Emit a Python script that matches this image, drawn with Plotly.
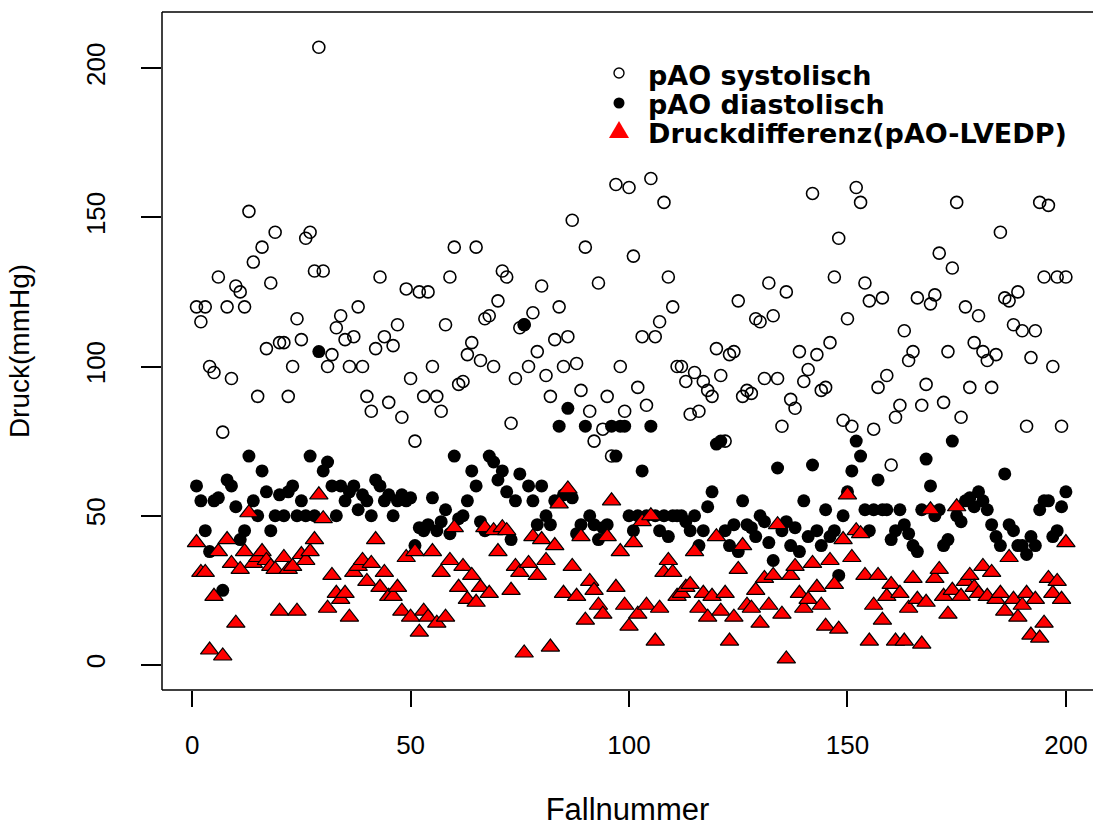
import plotly.graph_objects as go

fall = list(range(1, 201))

systolisch = [
    120, 115, 120, 100, 98, 130, 78, 120, 96, 127,
    125, 120, 152, 135, 90, 140, 106, 128, 145, 108,
    108, 90, 100, 116, 109, 143, 145, 132, 207, 132,
    100, 104, 113, 117, 109, 100, 110, 120, 100, 90,
    85, 106, 130, 110, 88, 107, 114, 83, 126, 96,
    75, 125, 90, 125, 100, 90, 85, 114, 130, 140,
    94, 95, 104, 108, 140, 102, 116, 117, 100, 122,
    132, 130, 81, 96, 113, 114, 100, 118, 105, 127,
    97, 90, 109, 120, 100, 110, 149, 101, 92, 140,
    85, 75, 128, 79, 90, 70, 161, 100, 85, 160,
    137, 93, 110, 87, 163, 110, 115, 155, 130, 120,
    100, 100, 95, 84, 98, 85, 95, 92, 90, 106,
    97, 75, 104, 105, 122, 90, 92, 91, 116, 115,
    96, 128, 117, 96, 80, 125, 89, 86, 105, 95,
    99, 158, 104, 92, 93, 108, 130, 143, 82, 116,
    80, 160, 155, 128, 122, 79, 93, 123, 97, 67,
    83, 87, 112, 102, 105, 123, 87, 94, 121, 124,
    138, 88, 105, 133, 155, 83, 120, 93, 108, 117,
    105, 102, 93, 104, 145, 123, 122, 114, 125, 112,
    80, 103, 112, 155, 130, 154, 100, 130, 80, 130,
]

diastolisch = [
    60, 55, 45, 38, 55, 56, 25, 62, 60, 53,
    42, 45, 70, 55, 50, 65, 58, 45, 50, 57,
    50, 58, 60, 50, 55, 50, 70, 50, 105, 65,
    68, 60, 50, 60, 55, 58, 60, 52, 57, 55,
    50, 62, 60, 55, 57, 50, 55, 57, 55, 56,
    40, 46, 45, 47, 56, 45, 48, 52, 44, 70,
    49, 50, 55, 65, 60, 48, 45, 70, 68, 62,
    65, 58, 42, 55, 64, 114, 60, 55, 47, 60,
    50, 47, 55, 80, 57, 86, 56, 44, 47, 80,
    50, 47, 42, 46, 47, 80, 70, 80, 80, 50,
    45, 50, 65, 50, 80, 50, 45, 50, 43, 50,
    50, 50, 48, 45, 50, 40, 45, 53, 58, 74,
    75, 45, 40, 47, 38, 55, 47, 46, 43, 50,
    48, 41, 35, 66, 45, 48, 40, 46, 38, 55,
    43, 67, 45, 40, 52, 43, 45, 30, 50, 58,
    65, 75, 70, 52, 45, 52, 62, 52, 52, 42,
    45, 52, 47, 44, 40, 38, 52, 69, 60, 50,
    52, 40, 42, 75, 50, 48, 55, 56, 53, 58,
    55, 52, 47, 43, 40, 64, 47, 45, 40, 40,
    37, 43, 40, 52, 55, 55, 43, 45, 53, 58,
]

druckdifferenz = [
    41, 31, 31, 5, 23, 38, 3, 42, 34, 14,
    32, 38, 51, 34, 36, 38, 35, 33, 32, 18,
    36, 32, 33, 18, 37, 35, 38, 42, 57, 49,
    19, 30, 24, 22, 24, 16, 31, 33, 35, 28,
    34, 42, 26, 31, 23, 23, 26, 18, 36, 16,
    38, 11, 18, 16, 38, 14, 31, 16, 35, 46,
    26, 33, 22, 30, 21, 26, 46, 24, 45, 38,
    46, 45, 25, 33, 31, 4, 34, 43, 30, 42,
    35, 6, 40, 54, 24, 59, 33, 23, 43, 15,
    28, 25, 20, 17, 43, 55, 26, 38, 20, 13,
    41, 17, 48, 20, 50, 8, 19, 31, 35, 31,
    23, 24, 26, 27, 38, 19, 24, 16, 23, 43,
    18, 24, 8, 16, 32, 40, 20, 19, 25, 14,
    29, 20, 30, 47, 17, 2, 30, 33, 24, 19,
    22, 34, 26, 20, 13, 35, 27, 12, 42, 57,
    36, 45, 44, 30, 8, 20, 30, 15, 23, 27,
    8, 24, 8, 19, 29, 22, 7, 21, 52, 29,
    32, 23, 17, 25, 53, 23, 28, 30, 26, 24,
    33, 23, 31, 22, 24, 18, 36, 22, 16, 20,
    24, 10, 22, 9, 14, 29, 24, 28, 22, 41,
]

legend_labels = ["pAO systolisch", "pAO diastolisch", "Druckdifferenz(pAO-LVEDP)"]
x_ticks = [0, 50, 100, 150, 200]
y_ticks = [0, 50, 100, 150, 200]

W, H = 1093, 827
L, R, T, B = 162, 1093, 12, 690


def px(x):
    return (x - L) / (R - L)


def py(y):
    return (B - y) / (B - T)


FONT = "Liberation Sans, Arial, sans-serif"
LEG_FONT = "DejaVu Sans, Liberation Sans, sans-serif"

fig = go.Figure()
fig.add_trace(go.Scatter(
    x=fall, y=systolisch, mode="markers", name=legend_labels[0],
    marker=dict(symbol="circle-open", size=12, color="black", line=dict(width=1.6, color="black")),
    showlegend=False,
))
fig.add_trace(go.Scatter(
    x=fall, y=diastolisch, mode="markers", name=legend_labels[1],
    marker=dict(symbol="circle", size=13, color="black", line=dict(width=0)),
    showlegend=False,
))
fig.add_trace(go.Scatter(
    x=fall, y=druckdifferenz, mode="markers", name=legend_labels[2],
    marker=dict(symbol="triangle-up", size=16, color="#ff0000", line=dict(width=1.2, color="black")),
    showlegend=False,
))

shapes = [
    dict(type="line", xref="paper", yref="paper", x0=0, x1=0, y0=0, y1=1, line=dict(color="black", width=1.5)),
    dict(type="line", xref="paper", yref="paper", x0=0, x1=1, y0=1, y1=1, line=dict(color="black", width=1.5)),
    dict(type="line", xref="paper", yref="paper", x0=0, x1=1, y0=0, y1=0, line=dict(color="black", width=1.5)),
]

# legend keys (manual legend)
leg_x = 619
leg_y = [73, 103, 131]
shapes.append(dict(type="circle", xref="paper", yref="paper", xsizemode="pixel", ysizemode="pixel",
                   xanchor=px(leg_x), yanchor=py(leg_y[0]), x0=-5, x1=5, y0=-5, y1=5,
                   line=dict(color="black", width=1.4), fillcolor="white"))
shapes.append(dict(type="circle", xref="paper", yref="paper", xsizemode="pixel", ysizemode="pixel",
                   xanchor=px(leg_x), yanchor=py(leg_y[1]), x0=-5.5, x1=5.5, y0=-5.5, y1=5.5,
                   line=dict(color="black", width=0), fillcolor="black"))
shapes.append(dict(type="path", xref="paper", yref="paper", xsizemode="pixel", ysizemode="pixel",
                   xanchor=px(leg_x), yanchor=py(leg_y[2]),
                   path="M -10 -7 L 10 -7 L 0 10 Z",
                   line=dict(color="red", width=0), fillcolor="#ff0000"))

annotations = []
for lbl, yy in zip(legend_labels, [75, 104, 133]):
    annotations.append(dict(
        text="<b>%s</b>" % lbl, xref="paper", yref="paper", x=px(646), y=py(yy),
        xanchor="left", yanchor="middle", showarrow=False,
        font=dict(family=LEG_FONT, size=27, color="black"),
    ))

fig.update_layout(
    width=W, height=H,
    margin=dict(l=L, r=W - R, t=T, b=H - B, pad=0),
    paper_bgcolor="white", plot_bgcolor="white",
    shapes=shapes, annotations=annotations,
    font=dict(family=FONT, color="black"),
    showlegend=False,
    xaxis=dict(
        range=[-6.9, 206.2], tickmode="array", tickvals=x_ticks, ticktext=[str(v) for v in x_ticks],
        showgrid=False, zeroline=False, showline=False,
        ticks="outside", ticklen=16, tickwidth=1.5, tickcolor="black",
        ticklabelstandoff=16,
        tickfont=dict(family=FONT, size=26, color="black"),
        title=dict(text="Fallnummer", font=dict(family=FONT, size=31, color="black"), standoff=42),
    ),
    yaxis=dict(
        range=[-8.4, 218.8], tickmode="array", tickvals=y_ticks, ticktext=[str(v) for v in y_ticks],
        showgrid=False, zeroline=False, showline=False,
        ticks="outside", ticklen=20, tickwidth=1.5, tickcolor="black",
        tickangle=-90, ticklabelstandoff=26,
        tickfont=dict(family=FONT, size=26, color="black"),
        title=dict(text="Druck(mmHg)", font=dict(family=FONT, size=28, color="black"), standoff=42),
    ),
)

fig.write_html("out.html")
